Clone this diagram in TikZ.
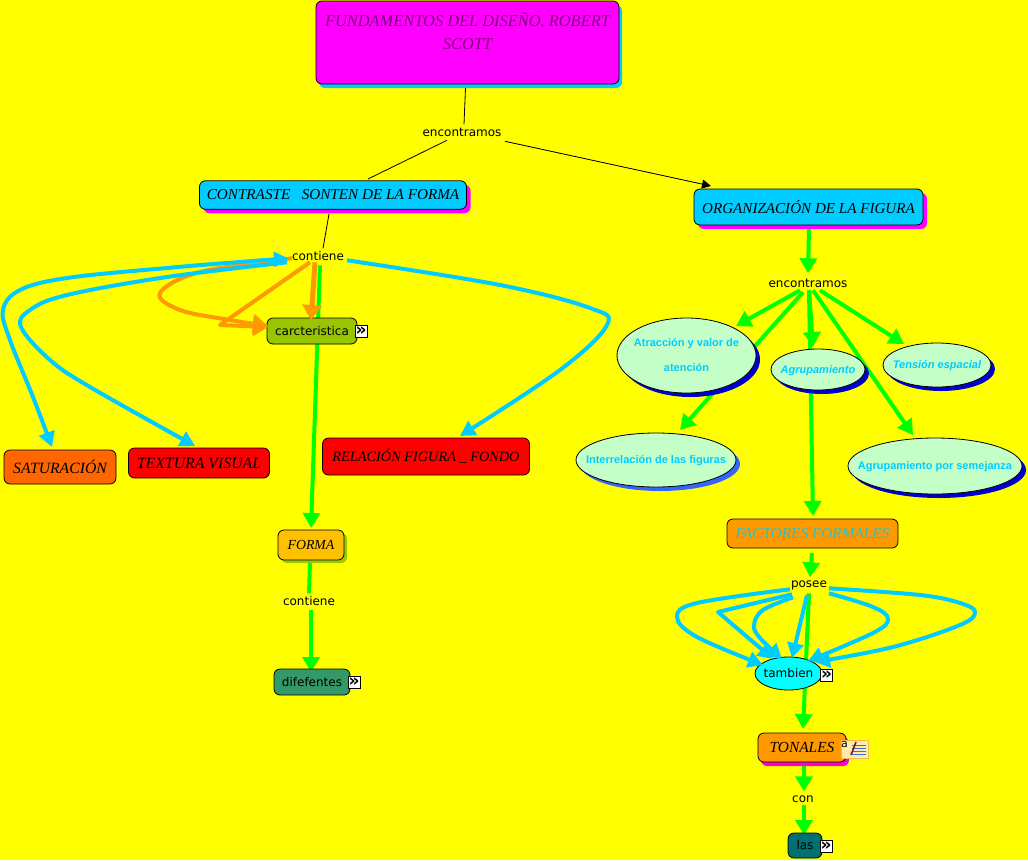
\documentclass[tikz,border=0pt]{standalone}
\usepackage{fontspec}
\usetikzlibrary{arrows.meta,shadows,shapes.geometric}
\newfontfamily\labf{DejaVu Sans}
\newfontfamily\scrf{Liberation Serif}[Scale=1]
\newfontfamily\ellf{Liberation Sans}
\definecolor{paperc}{RGB}{255,255,0}
\definecolor{skyb}{RGB}{0,204,255}
\definecolor{orng}{RGB}{255,153,0}
\definecolor{grn}{RGB}{0,255,0}
\definecolor{mint}{RGB}{196,255,200}
\definecolor{magn}{RGB}{255,0,255}
\definecolor{titletxt}{RGB}{128,0,128}
\definecolor{oliveg}{RGB}{153,196,0}
\definecolor{oliveh}{RGB}{153,204,0}
\definecolor{orred}{RGB}{255,102,0}
\definecolor{redb}{RGB}{255,0,0}
\definecolor{gold}{RGB}{255,192,0}
\definecolor{seag}{RGB}{51,153,102}
\definecolor{factxt}{RGB}{51,190,190}
\definecolor{pinksh}{RGB}{255,0,204}
\definecolor{tealb}{RGB}{0,112,112}
\definecolor{deepb}{RGB}{0,0,204}
\definecolor{midb}{RGB}{51,102,255}
\definecolor{cyanb}{RGB}{0,255,255}
\definecolor{notef}{RGB}{255,236,170}
\definecolor{noteb}{RGB}{240,190,80}
\definecolor{notel}{RGB}{60,110,220}
\definecolor{notep}{RGB}{130,20,40}
\pgfdeclarelayer{paper}\pgfdeclarelayer{conn}\pgfdeclarelayer{front}
\pgfsetlayers{paper,conn,main,front}
\newcommand\nrel[3]{([shift={(#2,#3)}]#1.center)}
\newcommand\ellt[1]{\raisebox{-.27em}{\smash{\makebox[0pt]{\begin{tabular}{@{}c@{}}#1\end{tabular}}}}}
\tikzset{
  lab/.style={font=\labf\fontsize{12}{14}\selectfont,inner sep=0pt,text=black,yshift=-.3pt},
  box/.style={rectangle,rounded corners=6pt,draw=black,line width=.8pt,inner sep=0pt,align=center},
  scrtext/.style={font=\scrf\itshape\fontsize{#1}{23}\selectfont},
  shad/.style n args={3}{general shadow={shadow xshift=#1pt,shadow yshift=-#2pt,fill=#3}},
  elli/.style={ellipse,draw=black,line width=.8pt,fill=mint,inner sep=0pt,text=skyb,font=\ellf\bfseries\fontsize{11}{25}\selectfont},
  ellit/.style={elli,font=\ellf\bfseries\itshape\fontsize{11}{25}\selectfont},
  iconbtn/.style={rectangle,draw=black,line width=.7pt,fill=white,minimum width=12pt,minimum height=12pt,inner sep=0pt,font=\labf\bfseries\fontsize{17}{17}\selectfont},
  thin conn/.style={draw=black,line width=.8pt},
  gconn/.style={draw=grn,line width=4pt},
  bconn/.style={draw=skyb,line width=4pt,line join=round},
  oconn/.style={draw=orng,line width=4pt,line join=round},
  gtip/.style={-{Triangle[length=15pt,width=17pt]}},
  btip/.style={-{Triangle[length=15pt,width=16pt]}},
  otip/.style={-{Triangle[length=15pt,width=19pt]}},
  ktip/.style={-{Triangle[length=9pt,width=9pt]}},
}
\begin{document}
\begin{tikzpicture}[x=1pt,y=-1pt]
\begin{pgfonlayer}{paper}
\fill[paperc] (0,0) rectangle (1028,860);
\end{pgfonlayer}
\useasboundingbox (0,0) rectangle (1028,860);

% concept boxes
\node[box,fill=magn,shad={3}{4}{skyb},minimum width=303pt,minimum height=83pt,text=titletxt,scrtext=16.4] (title) at (467.5,42.5) {FUNDAMENTOS DEL DISEÑO. ROBERT\\SCOTT\\~};
\node[box,fill=skyb,shad={4}{4}{magn},minimum width=267pt,minimum height=28.5pt,scrtext=15.2] (contr) at (333,195) {CONTRASTE\ \ \ SONTEN DE LA FORMA};
\node[box,fill=skyb,shad={4}{4}{magn},minimum width=229pt,minimum height=36pt,scrtext=15.1] (org) at (808.5,207) {ORGANIZACIÓN DE LA FIGURA};
\node[box,fill=oliveg,minimum width=90pt,minimum height=26pt,lab,yshift=.3pt] (carc) at (312,331) {carcteristica};
\node[box,fill=orred,minimum width=112pt,minimum height=34pt,scrtext=15.7] (sat) at (60,467) {SATURACIÓN};
\node[box,fill=redb,minimum width=141pt,minimum height=30pt,scrtext=15.8] (textu) at (199,463) {TEXTURA VISUAL};
\node[box,fill=redb,minimum width=207pt,minimum height=37pt,scrtext=14.3] (rel) at (426,456.5) {RELACIÓN FIGURA \_ FONDO};
\node[box,fill=gold,shad={3}{3}{oliveh},minimum width=66pt,minimum height=30pt,scrtext=13.8] (forma) at (311,545) {FORMA};
\node[box,fill=seag,minimum width=76pt,minimum height=26pt,lab,yshift=.3pt] (dif) at (312,682) {difefentes};
\node[box,fill=orng,minimum width=171pt,minimum height=29pt,text=factxt,scrtext=15.3] (fac) at (812.5,533.5) {FACTORES FORMALES};
\node[box,fill=orng,shad={3}{4}{pinksh},minimum width=88pt,minimum height=29pt,scrtext=15.4] (ton) at (802,747.5) {TONALES};
\node[box,fill=tealb,minimum width=34pt,minimum height=25pt,lab,yshift=.3pt] (las) at (805,845.5) {las};

% ellipses
\node[elli,shad={4}{4}{deepb},minimum width=139pt,minimum height=75pt] (atr) at (686.5,355.5) {\ellt{Atracción y valor de\\atención}};
\node[ellit,shad={4}{4}{deepb},minimum width=94pt,minimum height=41pt] (agr) at (818,369.5) {\ellt{Agrupamiento}};
\node[ellit,shad={4}{4}{deepb},minimum width=108pt,minimum height=44pt] (ten) at (937,365) {\ellt{Tensión espacial}};
\node[elli,shad={4}{4}{midb},minimum width=160pt,minimum height=54pt] (int) at (656,460) {\ellt{Interrelación de las figuras}};
\node[elli,shad={4}{4}{deepb},minimum width=174pt,minimum height=56pt] (sem) at (935,466) {\ellt{Agrupamiento por semejanza}};
\node[ellipse,draw=black,line width=.8pt,fill=cyanb,minimum width=67pt,minimum height=33pt,lab,inner sep=0pt,yshift=.3pt] (tam) at (788.5,673.5) {\makebox[0pt]{tambien}};

% linking phrases
\node[lab] (enc1) at (462,132) {encontramos};
\node[lab] (cont) at (318,256) {contiene};
\node[lab] (enc2) at (808,283) {encontramos};
\node[lab] (cont2) at (309,601) {contiene};
\node[lab] (pos) at (809,585) {posee};
\node[lab] (con) at (803,799) {con};

% icons
\node[iconbtn] (ic1) at (361,331) {»};
\node[iconbtn] (ic2) at (354,682) {»};
\node[iconbtn] (ic3) at (826.5,675) {»};
\node[iconbtn] (ic4) at (826,846.5) {»};
\node[rectangle,draw=noteb,fill=notef,minimum width=27pt,minimum height=18pt,inner sep=0pt] (note) at (855,749) {};
\node[inner sep=0pt,font=\labf\fontsize{11}{11}\selectfont] (noteA) at (844.5,744.5) {a};
\foreach \yy in {-4,-1,2,5} \draw[notel,line width=.7pt] \nrel{note}{-3}{\yy} -- \nrel{note}{11}{\yy};
\draw[notep,line width=1.6pt] \nrel{note}{-4}{6} -- \nrel{note}{1}{-7};

\begin{pgfonlayer}{conn}
\draw[thin conn] \nrel{title}{-2}{45.5} -- \nrel{enc1}{2}{-8};
\draw[thin conn] \nrel{enc1}{-15}{8} -- \nrel{contr}{35}{-16};
\draw[thin conn,ktip,fill=black] \nrel{enc1}{43}{9} -- \nrel{org}{-97.5}{-21};
\draw[thin conn] \nrel{contr}{-4}{19} -- \nrel{cont}{5}{-8};

\draw[gconn,gtip] \nrel{org}{0.5}{21} -- \nrel{enc2}{0}{-10};
\draw[gconn,gtip] \nrel{enc2}{-8}{7} -- \nrel{atr}{49.5}{-29.5};
\draw[gconn,gtip] \nrel{enc2}{-5}{9} -- \nrel{int}{24}{-30};
\draw[gconn,gtip] \nrel{enc2}{1}{7} -- \nrel{agr}{-5}{-22.5};
\draw[gconn,gtip] \nrel{enc2}{1}{7} -- \nrel{fac}{0.5}{-17.5};
\draw[gconn,gtip] \nrel{enc2}{12}{7} -- \nrel{ten}{-33}{-21};
\draw[gconn,gtip] \nrel{enc2}{5}{7} -- \nrel{sem}{-22}{-31};
\draw[gconn,gtip] \nrel{fac}{-0.5}{19.5} -- \nrel{pos}{1}{-8};
\draw[gconn,gtip] \nrel{pos}{0}{8} -- \nrel{ton}{1}{-18.5};
\draw[gconn,gtip] \nrel{ton}{2}{17.5} -- \nrel{con}{1}{-8};
\draw[gconn,gtip] \nrel{con}{1}{6} -- \nrel{las}{-1}{-10.5};
\draw[gconn,gtip] \nrel{cont}{2}{9} -- \nrel{forma}{0}{-17};
\draw[gconn] \nrel{forma}{-1}{17} -- \nrel{cont2}{0}{-8};
\draw[gconn,gtip] \nrel{cont2}{2}{9} -- \nrel{dif}{-1}{-10};
\end{pgfonlayer}

\begin{pgfonlayer}{front}
% orange, contiene to carcteristica
\draw[oconn,otip,line width=5pt] \nrel{cont}{-3}{6} -- \nrel{carc}{-1}{-11};
\draw[oconn,otip] \nrel{cont}{-8}{6} -- \nrel{carc}{-92}{-6} -- \nrel{carc}{-44}{-4};
\draw[oconn,otip] plot[smooth,tension=.6] coordinates {([shift={(-26,2)}]cont.center) (200,272) (160,293) (180,310) (230,320) ([shift={(-44,-5)}]carc.center)};
% blue, contiene to the boxes below
\draw[bconn,{Triangle[length=14pt,width=15pt]}-{Triangle[length=15pt,width=16pt]}] plot[smooth,tension=.6] coordinates {([shift={(-30,2)}]cont.center) (167,268) (67,278) (20,290) (3,310) (10,340) (33,397) ([shift={(-8,-20)}]sat.center)};
\draw[bconn,btip] plot[smooth,tension=.6] coordinates {([shift={(-31,6)}]cont.center) (167,277) (67,295) (30,310) (21,327) (50,360) (90,387) ([shift={(-4,-17)}]textu.center)};
\draw[bconn,btip] plot[smooth,tension=.6] coordinates {([shift={(29,4)}]cont.center) (500,285) (590,308) (607,325) (560,370) ([shift={(34,-20.5)}]rel.center)};
% blue, posee to tambien
\draw[bconn,btip] plot[smooth,tension=.6] coordinates {([shift={(-19,4)}]pos.center) (697,603) (677,617) (697,637) ([shift={(-25.5,-8.5)}]tam.center)};
\draw[bconn,btip] \nrel{pos}{-17}{9} -- (718,612) -- \nrel{tam}{-15.5}{-14.5};
\draw[bconn,btip] plot[smooth,tension=.6] coordinates {([shift={(-16,12)}]pos.center) (763,610) (754,625) (760,638) ([shift={(-6.5,-14.5)}]tam.center)};
\draw[bconn,btip] \nrel{pos}{-2}{10} -- \nrel{tam}{3.5}{-15.5};
\draw[bconn,btip] plot[smooth,tension=.6] coordinates {([shift={(20,8)}]pos.center) (873,607) (888,619) (873,633) ([shift={(19.5,-12.5)}]tam.center)};
\draw[bconn,btip] plot[smooth,tension=.6] coordinates {([shift={(20,3)}]pos.center) (920,595) (960,603) (975,612) (960,625) (893,647) ([shift={(26.5,-11.5)}]tam.center)};
\end{pgfonlayer}
\end{tikzpicture}
\end{document}
